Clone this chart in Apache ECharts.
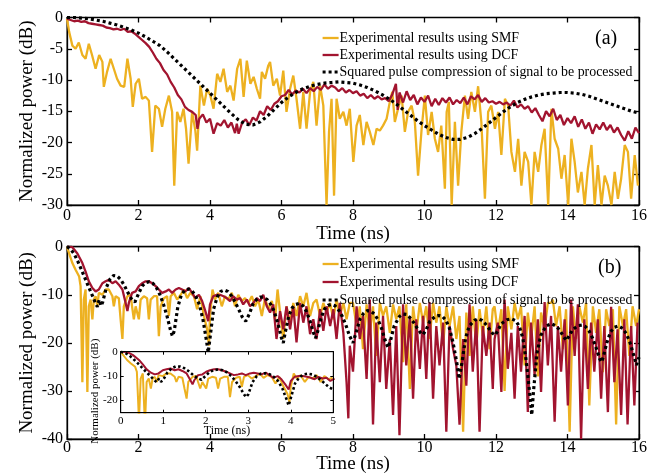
<!DOCTYPE html>
<html><head><meta charset="utf-8">
<script src="https://cdn.jsdelivr.net/npm/echarts@6/dist/echarts.min.js"></script>
<style>html,body{margin:0;padding:0;background:#fff}#c{width:658px;height:475px}</style>
</head><body><div id="c"></div>
<script>
// ---------- DATA ----------
const seriesNames = ['Experimental results using SMF', 'Experimental results using DCF', 'Squared pulse compression of signal to be processed'];
const xTicksMain = [0, 2, 4, 6, 8, 10, 12, 14, 16];
const yTicksA = [-30, -25, -20, -15, -10, -5, 0];
const yTicksB = [-40, -30, -20, -10, 0];
const xTicksInset = [0, 1, 2, 3, 4, 5];
const yTicksInset = [-20, -10, 0];

const smfA = [[0,-0.2],[0.06,-2.3],[0.15,-4.5],[0.24,-5],[0.33,-4],[0.43,-6],[0.52,-6.6],[0.61,-4.2],[0.7,-6],[0.8,-8.2],[0.9,-6],[0.99,-7.1],[1.03,-11.1],[1.12,-8.7],[1.22,-6.6],[1.31,-8.2],[1.4,-9.8],[1.5,-10.9],[1.6,-11.1],[1.69,-6.6],[1.78,-9.8],[1.84,-14.3],[1.92,-10.6],[2.01,-9.8],[2.1,-13],[2.2,-12.7],[2.29,-13.3],[2.38,-21.5],[2.47,-14.1],[2.57,-14.6],[2.66,-17.5],[2.75,-14.6],[2.85,-12.5],[2.94,-15.1],[3.0,-26.9],[3.08,-15.1],[3.17,-16.7],[3.26,-14.6],[3.33,-17.8],[3.4,-23.4],[3.5,-15.1],[3.59,-18.1],[3.64,-21.3],[3.73,-10.9],[3.83,-14.1],[3.92,-11.4],[4.01,-12.5],[4.1,-14.6],[4.2,-9],[4.29,-10.3],[4.38,-8.2],[4.48,-11.9],[4.57,-10.9],[4.66,-13.3],[4.76,-8.2],[4.85,-6.6],[4.94,-12.7],[5.03,-6.9],[5.13,-10.6],[5.22,-9.5],[5.31,-11.4],[5.4,-13],[5.45,-8.7],[5.54,-9.8],[5.63,-7.7],[5.68,-7.1],[5.77,-10.9],[5.87,-9.8],[5.96,-12.5],[6.05,-8.5],[6.14,-15.1],[6.24,-11.4],[6.33,-9.3],[6.42,-13],[6.52,-17.8],[6.61,-11.9],[6.7,-17.8],[6.8,-11.9],[6.89,-10.3],[6.98,-17.3],[7.08,-10.9],[7.17,-14.1],[7.26,-30],[7.33,-18.3],[7.4,-13],[7.47,-28.5],[7.54,-13],[7.63,-16.2],[7.73,-15.1],[7.82,-17.3],[7.91,-14.6],[8.01,-23.1],[8.1,-17.3],[8.19,-15.6],[8.29,-20.4],[8.38,-16.7],[8.47,-18.3],[8.57,-20.4],[8.66,-17.8],[8.75,-18.1],[8.84,-17.3],[8.94,-16.2],[9.03,-13.5],[9.1,-11.9],[9.17,-16.7],[9.26,-14.6],[9.36,-12.5],[9.45,-18.3],[9.54,-15.1],[9.64,-14.1],[9.73,-16.7],[9.82,-25.3],[9.92,-17.8],[10.01,-12.5],[10.1,-18.8],[10.2,-15.1],[10.29,-19.4],[10.38,-21.5],[10.47,-17.3],[10.57,-27.4],[10.62,-15.1],[10.68,-13.5],[10.76,-30],[10.85,-16.7],[10.94,-26.9],[11.03,-18.3],[11.13,-12.5],[11.22,-16.2],[11.31,-11.9],[11.41,-15.1],[11.5,-11],[11.59,-16.7],[11.69,-29],[11.78,-15.1],[11.87,-14.1],[11.97,-17.8],[12.06,-15.1],[12.15,-22],[12.25,-13],[12.34,-14.1],[12.43,-21.5],[12.53,-24.7],[12.62,-19.4],[12.71,-26.9],[12.8,-21.5],[12.9,-23.1],[12.99,-30],[13.08,-21.5],[13.18,-24.7],[13.27,-20.4],[13.36,-17.8],[13.46,-30],[13.55,-14.6],[13.64,-19.4],[13.74,-21],[13.83,-25.8],[13.92,-22],[14.02,-30],[14.11,-19.4],[14.2,-23.1],[14.29,-28],[14.39,-24.7],[14.48,-30],[14.57,-24.2],[14.67,-20.4],[14.76,-30],[14.85,-23.6],[14.95,-30],[15.04,-25.3],[15.13,-26.9],[15.23,-30],[15.32,-24.7],[15.41,-29],[15.5,-25.8],[15.6,-20.4],[15.69,-21.5],[15.78,-29],[15.88,-22],[15.97,-26.9]];

const dcfA = [[0,-0.2],[0.1,-0.4],[0.2,-0.6],[0.3,-0.5],[0.4,-0.7],[0.5,-0.6],[0.6,-0.9],[0.7,-1.0],[0.8,-1.1],[0.9,-1.2],[1.0,-1.3],[1.1,-1.6],[1.2,-1.7],[1.3,-1.9],[1.4,-1.8],[1.5,-2.0],[1.6,-1.8],[1.7,-2.3],[1.8,-2.2],[1.9,-2.6],[2.0,-3.1],[2.1,-3.6],[2.2,-4.1],[2.3,-4.7],[2.4,-5.6],[2.5,-6.6],[2.6,-7.3],[2.7,-8.4],[2.8,-9.1],[2.9,-10.3],[3.0,-11.2],[3.1,-12.4],[3.2,-13.1],[3.3,-14.3],[3.4,-14.8],[3.5,-15.1],[3.6,-15.6],[3.65,-17.8],[3.7,-16.2],[3.8,-15.5],[3.9,-16.8],[4.0,-16.2],[4.1,-18.6],[4.2,-16.9],[4.3,-17.3],[4.4,-16.4],[4.5,-17.6],[4.6,-16.8],[4.7,-18.5],[4.75,-17.0],[4.8,-18.6],[4.9,-16.8],[5.0,-16.3],[5.1,-17.2],[5.2,-16.0],[5.3,-16.5],[5.4,-15.0],[5.5,-15.6],[5.6,-14.2],[5.7,-14.8],[5.8,-13.8],[5.9,-13.4],[6.0,-12.6],[6.1,-12.4],[6.2,-11.6],[6.3,-12.3],[6.4,-11.7],[6.5,-12.0],[6.6,-11.4],[6.7,-12.1],[6.8,-11.3],[6.9,-11.8],[7.0,-11.1],[7.1,-11.6],[7.2,-10.7],[7.3,-11.4],[7.4,-10.9],[7.5,-11.2],[7.6,-11.8],[7.7,-11.3],[7.8,-12.0],[7.9,-11.6],[8.0,-12.1],[8.1,-11.8],[8.2,-12.5],[8.3,-12.2],[8.4,-12.9],[8.5,-12.4],[8.6,-13.0],[8.7,-12.6],[8.8,-13.1],[8.9,-12.9],[9.0,-13.4],[9.1,-12.3],[9.2,-10.6],[9.25,-14.8],[9.3,-12.0],[9.4,-13.6],[9.5,-11.8],[9.6,-13.2],[9.7,-12.4],[9.8,-13.9],[9.9,-12.8],[10.0,-13.5],[10.1,-12.5],[10.2,-14.2],[10.3,-13.0],[10.4,-14.0],[10.5,-12.9],[10.6,-13.6],[10.7,-12.8],[10.8,-13.9],[10.9,-13.2],[11.0,-13.7],[11.1,-12.8],[11.2,-13.9],[11.3,-12.6],[11.4,-13.1],[11.5,-12.4],[11.6,-13.5],[11.7,-12.9],[11.8,-13.6],[11.9,-13.4],[12.0,-13.8],[12.1,-13.5],[12.2,-13.9],[12.3,-13.6],[12.4,-14.1],[12.5,-13.3],[12.6,-14.4],[12.7,-13.9],[12.8,-14.6],[12.9,-14.2],[13.0,-15.2],[13.1,-14.5],[13.2,-15.6],[13.3,-16.6],[13.4,-15.0],[13.5,-15.8],[13.6,-14.6],[13.7,-16.4],[13.8,-15.6],[13.9,-17.2],[14.0,-16.1],[14.1,-16.9],[14.2,-15.8],[14.3,-17.5],[14.4,-16.3],[14.5,-17.8],[14.6,-16.8],[14.7,-18.6],[14.8,-17.1],[14.9,-17.9],[15.0,-16.8],[15.1,-18.0],[15.2,-17.2],[15.3,-18.4],[15.4,-17.6],[15.5,-18.8],[15.6,-19.7],[15.7,-18.2],[15.8,-19.4],[15.9,-17.6],[16.0,-18.5]];

const sqA = [[0,0],[0.2,0],[0.4,-0.1],[0.6,-0.2],[0.8,-0.4],[1.0,-0.6],[1.2,-0.9],[1.4,-1.2],[1.6,-1.6],[1.8,-2.0],[2.0,-2.5],[2.2,-3.1],[2.4,-3.8],[2.6,-4.5],[2.8,-5.5],[3.0,-6.6],[3.2,-7.7],[3.4,-8.8],[3.6,-9.9],[3.8,-11.0],[4.0,-12.1],[4.2,-13.2],[4.4,-14.3],[4.6,-15.4],[4.8,-16.4],[5.0,-17.1],[5.2,-17.2],[5.4,-16.7],[5.6,-15.8],[5.8,-14.7],[6.0,-13.6],[6.2,-12.7],[6.4,-12.0],[6.6,-11.4],[6.8,-11.0],[7.0,-10.7],[7.2,-10.5],[7.4,-10.4],[7.6,-10.3],[7.8,-10.4],[8.0,-10.5],[8.2,-10.8],[8.4,-11.2],[8.6,-11.7],[8.8,-12.3],[9.0,-13.0],[9.2,-13.8],[9.4,-14.7],[9.6,-15.6],[9.8,-16.5],[10.0,-17.3],[10.2,-18.0],[10.4,-18.7],[10.6,-19.2],[10.8,-19.5],[11.0,-19.5],[11.2,-19.2],[11.4,-18.6],[11.6,-17.8],[11.8,-16.9],[12.0,-16.0],[12.2,-15.1],[12.4,-14.3],[12.6,-13.6],[12.8,-13.1],[13.0,-12.7],[13.2,-12.4],[13.4,-12.2],[13.6,-12.1],[13.8,-12.0],[14.0,-12.0],[14.2,-12.1],[14.4,-12.3],[14.6,-12.6],[14.8,-13.0],[15.0,-13.4],[15.2,-13.8],[15.4,-14.2],[15.6,-14.6],[15.8,-15.0],[16.0,-15.3]];

const smfB = [[0,0],[0.06,-1.4],[0.15,-3.4],[0.24,-4.8],[0.34,-6.2],[0.38,-8.2],[0.43,-28.2],[0.47,-11],[0.52,-8.9],[0.57,-30.2],[0.61,-12.4],[0.66,-11],[0.71,-15.1],[0.75,-11],[0.8,-10.3],[0.85,-12.4],[0.89,-9.6],[0.99,-10],[1.08,-8.9],[1.17,-8.9],[1.27,-10.3],[1.31,-12.4],[1.36,-10.3],[1.45,-10.7],[1.5,-15.1],[1.55,-19.2],[1.59,-12.4],[1.69,-10.3],[1.78,-10],[1.82,-12.4],[1.87,-15.1],[1.92,-12.4],[2.01,-15.1],[2.06,-11],[2.15,-10.3],[2.24,-10.7],[2.29,-15.1],[2.34,-11],[2.43,-10.3],[2.52,-10.3],[2.57,-18.6],[2.62,-12.4],[2.71,-10.7],[2.8,-10.3],[2.85,-14.4],[2.9,-10.3],[2.99,-9.6],[3.08,-11],[3.18,-10],[3.27,-8.9],[3.36,-10.7],[3.45,-9.6],[3.55,-10.3],[3.64,-13],[3.73,-10.3],[3.83,-14.4],[3.92,-17.2],[3.97,-20.6],[4.0,-14.4],[4.07,-8.9],[4.14,-11],[4.23,-9.6],[4.33,-12.4],[4.42,-10.3],[4.51,-11],[4.61,-9.6],[4.7,-12.4],[4.79,-10],[4.89,-11.3],[4.98,-10.7],[5.07,-11.7],[5.17,-10.3],[5.26,-12.4],[5.35,-11],[5.45,-14.4],[5.54,-10.7],[5.63,-13],[5.73,-11.3],[5.82,-15.1],[5.89,-8.9],[5.96,-13.7],[6.05,-19.2],[6.14,-12.4],[6.24,-15.8],[6.33,-11.7],[6.42,-14.4],[6.52,-10.3],[6.61,-12.4],[6.7,-9.6],[6.8,-14.4],[6.89,-11.7],[6.98,-11],[7.08,-14.4],[7.17,-11.7],[7.26,-13.7],[7.36,-11.7],[7.45,-15.1],[7.54,-11],[7.63,-14.4],[7.73,-11.7],[7.82,-15.1],[7.91,-11.7],[8.0,-11.7],[8.1,-16.5],[8.19,-12.4],[8.28,-21.3],[8.38,-12],[8.47,-17.9],[8.56,-12.4],[8.65,-22.7],[8.75,-11.7],[8.84,-14.4],[8.93,-12.4],[9.03,-17.9],[9.12,-12],[9.21,-15.1],[9.3,-12.4],[9.4,-24],[9.49,-12],[9.59,-29.6],[9.68,-12.4],[9.77,-17.9],[9.87,-11.7],[9.96,-15.8],[10.05,-12.4],[10.14,-19.2],[10.24,-11.7],[10.33,-15.8],[10.42,-12.4],[10.52,-20.6],[10.61,-12.4],[10.7,-16.5],[10.8,-12.4],[10.89,-19.2],[10.98,-14.4],[11.08,-38.5],[11.17,-13.7],[11.26,-22.7],[11.35,-12.4],[11.45,-20.6],[11.54,-13],[11.63,-18.6],[11.73,-12.4],[11.82,-21.3],[11.91,-13],[11.96,-12.4],[12.05,-17.9],[12.15,-13],[12.24,-30],[12.33,-12.4],[12.43,-17.2],[12.52,-11.7],[12.61,-15.1],[12.7,-12.4],[12.8,-24.7],[12.89,-13.7],[12.98,-19.2],[13.08,-12.4],[13.17,-27],[13.26,-13.7],[13.36,-17.2],[13.45,-11.7],[13.54,-11.7],[13.59,-11],[13.68,-16.5],[13.78,-12.4],[13.87,-21.3],[13.96,-13],[14.06,-38.5],[14.15,-12.4],[14.24,-19.2],[14.33,-12.4],[14.43,-15.8],[14.52,-11.7],[14.61,-33],[14.71,-12.4],[14.8,-17.9],[14.89,-13],[14.99,-26.1],[15.08,-13],[15.17,-16.5],[15.27,-13],[15.36,-37],[15.45,-12.4],[15.55,-16.5],[15.64,-13],[15.73,-22.7],[15.82,-12.4],[15.92,-16.5],[16,-13]];

const dcfB = [[0,0],[0.15,-0.1],[0.29,-1.4],[0.43,-3.4],[0.52,-5.2],[0.61,-7.2],[0.71,-8.6],[0.8,-9.3],[0.89,-8.9],[0.99,-7.6],[1.08,-7.2],[1.17,-6.9],[1.27,-7.6],[1.36,-7.2],[1.45,-7.9],[1.55,-8.9],[1.64,-11.7],[1.69,-13.4],[1.73,-11.7],[1.82,-9.6],[1.92,-9.3],[2.01,-8.2],[2.1,-7.6],[2.2,-7.2],[2.29,-7.2],[2.38,-7.6],[2.48,-8.2],[2.57,-8.9],[2.66,-9.6],[2.76,-9.3],[2.85,-8.9],[2.94,-9.6],[3.04,-8.9],[3.13,-8.6],[3.22,-8.9],[3.31,-9.3],[3.41,-8.6],[3.5,-9.6],[3.59,-10.7],[3.69,-10],[3.78,-11.3],[3.87,-13.4],[3.95,-15.5],[4.0,-12],[4.09,-10.3],[4.19,-10],[4.28,-10],[4.38,-10.3],[4.47,-10.7],[4.56,-11.3],[4.65,-10.3],[4.75,-11],[4.84,-10.7],[4.93,-12],[5.03,-11],[5.12,-12.4],[5.21,-11.7],[5.31,-10.7],[5.4,-11.3],[5.49,-10],[5.59,-12.4],[5.68,-13.7],[5.77,-12],[5.86,-19.2],[5.96,-13.4],[6.05,-17.2],[6.14,-12.4],[6.24,-17.2],[6.33,-12.4],[6.42,-19.9],[6.52,-11.7],[6.61,-15.8],[6.7,-12.4],[6.8,-18.2],[6.89,-15.1],[6.98,-19.2],[7.08,-13],[7.17,-17.5],[7.26,-12.4],[7.36,-16.5],[7.45,-13],[7.54,-19.2],[7.63,-11.7],[7.73,-17.9],[7.82,-28.2],[7.87,-35.7],[7.91,-20.6],[8.0,-26],[8.1,-12.4],[8.19,-19.2],[8.28,-14.4],[8.38,-27.5],[8.47,-11],[8.56,-37],[8.65,-15.8],[8.75,-28.2],[8.84,-14.4],[8.93,-29.6],[9.03,-19.2],[9.12,-35],[9.21,-16.5],[9.3,-39.2],[9.4,-12],[9.49,-24.7],[9.59,-14.4],[9.68,-31.6],[9.77,-15.1],[9.87,-25.4],[9.96,-14.4],[10.05,-27.5],[10.14,-11.5],[10.24,-31.6],[10.33,-16.5],[10.42,-24.7],[10.52,-15.8],[10.61,-38.5],[10.7,-16.5],[10.8,-21.3],[10.89,-24.7],[10.98,-37],[11.08,-19.2],[11.17,-28.9],[11.26,-12],[11.35,-26],[11.45,-15.1],[11.54,-38.5],[11.63,-16.5],[11.73,-22.7],[11.82,-15.8],[11.91,-29.6],[11.96,-19.2],[12.05,-15.8],[12.15,-30.2],[12.24,-11],[12.33,-25.4],[12.43,-17.9],[12.52,-31.6],[12.61,-16.5],[12.7,-26],[12.8,-14.4],[12.89,-34.4],[12.98,-15.8],[13.08,-26.8],[13.17,-15.1],[13.26,-30.2],[13.36,-11.5],[13.45,-24.7],[13.54,-14.4],[13.64,-36.4],[13.73,-16.5],[13.82,-26],[13.92,-15.1],[14.01,-33],[14.1,-11],[14.2,-22.7],[14.29,-12],[14.38,-40],[14.47,-15.1],[14.57,-29.6],[14.66,-15.8],[14.75,-26],[14.85,-15.1],[14.94,-31.6],[15.03,-16.5],[15.13,-34.4],[15.22,-12.5],[15.31,-28.2],[15.4,-17.2],[15.5,-35],[15.59,-15.1],[15.68,-37],[15.78,-16.5],[15.87,-33],[15.96,-15.8]];

const sqB = [[0,0],[0.1,-0.5],[0.2,-1.5],[0.3,-3],[0.4,-4.7],[0.5,-6.5],[0.6,-8.3],[0.7,-10],[0.8,-11.8],[0.85,-12.5],[0.9,-11],[0.95,-12.3],[1.0,-11.5],[1.1,-8.5],[1.2,-6.8],[1.3,-6],[1.4,-6.1],[1.5,-6.8],[1.6,-8],[1.7,-9.5],[1.8,-10.8],[1.9,-11.5],[2.0,-9.8],[2.1,-8.2],[2.2,-7.5],[2.3,-7.3],[2.4,-7.6],[2.5,-8.5],[2.6,-10],[2.7,-12],[2.8,-14.5],[2.9,-17.5],[2.95,-18.6],[3.0,-17.5],[3.1,-12.5],[3.2,-10],[3.3,-9],[3.4,-8.8],[3.5,-9.2],[3.6,-10.3],[3.7,-12],[3.8,-15],[3.9,-19.5],[3.95,-22],[4.0,-19],[4.1,-13],[4.2,-10.5],[4.3,-9.3],[4.4,-9],[4.5,-9.3],[4.6,-10.2],[4.7,-11.5],[4.8,-13],[4.9,-14.6],[5.0,-15.5],[5.1,-14],[5.2,-12],[5.3,-11],[5.4,-10.5],[5.5,-10.5],[5.6,-11],[5.7,-12],[5.8,-13.5],[5.9,-16],[6.0,-19],[6.05,-20],[6.1,-18],[6.2,-14.5],[6.3,-12.7],[6.4,-12],[6.5,-11.8],[6.6,-12.3],[6.7,-13.5],[6.8,-15.5],[6.9,-18],[6.95,-19],[7.0,-18],[7.1,-15],[7.2,-13],[7.3,-12.2],[7.4,-12],[7.5,-12.3],[7.6,-13.2],[7.7,-14.5],[7.8,-16.3],[7.9,-18.5],[8.0,-20],[8.1,-17.5],[8.2,-15],[8.3,-13.8],[8.4,-13.3],[8.5,-13.4],[8.6,-14],[8.7,-15.2],[8.8,-17],[8.9,-19.5],[8.98,-21],[9.05,-19.5],[9.15,-16.5],[9.3,-14.5],[9.4,-14],[9.5,-14.1],[9.6,-14.8],[9.7,-15.8],[9.8,-17],[9.9,-18],[9.96,-18.3],[10.05,-17.2],[10.15,-15.5],[10.3,-14.5],[10.4,-14.3],[10.5,-14.5],[10.6,-15.3],[10.7,-17],[10.8,-20],[10.9,-24],[10.97,-27.5],[11.05,-24],[11.15,-19],[11.25,-16.5],[11.4,-15.3],[11.5,-15],[11.6,-15.3],[11.7,-16],[11.8,-17],[11.9,-18],[11.98,-18.4],[12.05,-17.5],[12.15,-16],[12.3,-15.2],[12.44,-15],[12.55,-15.4],[12.65,-16.5],[12.75,-19],[12.85,-24],[12.95,-31],[13.0,-35],[13.05,-30],[13.15,-22],[13.25,-18.5],[13.4,-16.5],[13.55,-16],[13.7,-16.6],[13.8,-17.6],[13.9,-18.8],[13.97,-19.5],[14.05,-18.5],[14.15,-17.2],[14.3,-16.4],[14.4,-16.3],[14.5,-16.6],[14.6,-17.5],[14.7,-19],[14.8,-21],[14.9,-23.3],[14.95,-24],[15.0,-23],[15.1,-20],[15.2,-17.8],[15.3,-16.8],[15.42,-16.5],[15.55,-17],[15.65,-18.2],[15.75,-20],[15.85,-22.5],[15.93,-24.6],[16.0,-23]];

// ---------- CHART ----------
const FONT = 'Liberation Serif';
const C_SMF = '#EDB120', C_DCF = '#A2142F', C_SQ = '#000000';
const insetMax = xTicksInset[xTicksInset.length - 1];
const cut = arr => arr.filter(p => p[0] <= insetMax + 0.05);

function xAxisDef(grid, ticks, pos, opts) {
  return Object.assign({
    type: 'value', gridIndex: grid, position: pos,
    min: ticks[0], max: ticks[ticks.length - 1], interval: ticks[1] - ticks[0],
    axisLine: {show: true, onZero: false, lineStyle: {color: '#000', width: 1.3}},
    axisTick: {show: true, inside: true, length: 5, lineStyle: {color: '#000', width: 1.3}},
    axisLabel: {show: pos === 'bottom', color: '#000', fontFamily: FONT, fontSize: 16, margin: 3},
    splitLine: {show: false}, nameMoveOverlap: false
  }, opts || {});
}
function yAxisDef(grid, ticks, pos, opts) {
  return Object.assign({
    type: 'value', gridIndex: grid, position: pos,
    min: ticks[0], max: ticks[ticks.length - 1], interval: ticks[1] - ticks[0],
    axisLine: {show: true, onZero: false, lineStyle: {color: '#000', width: 1.3}},
    axisTick: {show: true, inside: true, length: 5, lineStyle: {color: '#000', width: 1.3}},
    axisLabel: {show: pos === 'left', color: '#000', fontFamily: FONT, fontSize: 16, margin: 4},
    splitLine: {show: false}, nameMoveOverlap: false
  }, opts || {});
}

const nameStyle = {color: '#000', fontFamily: FONT, fontSize: 19};
const insetLab = {color: '#000', fontFamily: FONT, fontSize: 11, margin: 3};
const insetTick = {show: true, inside: true, length: 3, lineStyle: {color: '#000', width: 1}};
const insetLine = {show: true, onZero: false, lineStyle: {color: '#000', width: 1}};

const xAxes = [
  xAxisDef(0, xTicksMain, 'bottom', {name: 'Time (ns)', nameLocation: 'middle', nameGap: 20, nameTextStyle: nameStyle}),
  xAxisDef(0, xTicksMain, 'top'),
  xAxisDef(1, xTicksMain, 'bottom', {name: 'Time (ns)', nameLocation: 'middle', nameGap: 16, nameTextStyle: nameStyle, axisLabel: {show: true, color: '#000', fontFamily: FONT, fontSize: 16, margin: 1}}),
  xAxisDef(1, xTicksMain, 'top'),
  xAxisDef(2, xTicksInset, 'bottom', {z: 8, name: 'Time (ns)', nameLocation: 'middle', nameGap: 12, nameTextStyle: {color: '#000', fontFamily: FONT, fontSize: 12}, axisLabel: insetLab, axisTick: insetTick, axisLine: insetLine}),
  xAxisDef(2, xTicksInset, 'top', {z: 8, axisTick: insetTick, axisLine: insetLine})
];
const yAxes = [
  yAxisDef(0, yTicksA, 'left', {name: 'Normalized power (dB)', nameLocation: 'middle', nameGap: 30, nameTextStyle: nameStyle}),
  yAxisDef(0, yTicksA, 'right'),
  yAxisDef(1, yTicksB, 'left', {name: 'Normalized power (dB)', nameLocation: 'middle', nameGap: 30, nameTextStyle: nameStyle}),
  yAxisDef(1, yTicksB, 'right'),
  yAxisDef(2, yTicksInset, 'left', {z: 8, min: -25, max: 0, interval: undefined,
    name: 'Normalized power (dB)', nameLocation: 'middle', nameGap: 20, nameTextStyle: {color: '#000', fontFamily: FONT, fontSize: 11, padding: [0, 0, 0, -18]},
    axisLabel: Object.assign({customValues: yTicksInset}, insetLab),
    axisTick: Object.assign({customValues: yTicksInset}, insetTick),
    axisLine: insetLine}),
  yAxisDef(2, yTicksInset, 'right', {z: 8, min: -25, max: 0, interval: undefined,
    axisLabel: {show: false}, axisTick: Object.assign({customValues: yTicksInset}, insetTick),
    axisLine: insetLine})
];

function line(name, data, color, xi, yi, extra) {
  const dotted = color === C_SQ;
  return Object.assign({
    name: name, type: 'line', data: data, xAxisIndex: xi, yAxisIndex: yi,
    showSymbol: false, symbol: 'none', animation: false, silent: true,
    lineStyle: dotted ? {color: color, width: 3.2, type: [3, 3]} : {color: color, width: 2.3},
    itemStyle: {color: color}
  }, extra || {});
}

const series = [
  line(seriesNames[0], smfA, C_SMF, 0, 0),
  line(seriesNames[1], dcfA, C_DCF, 0, 0),
  line(seriesNames[2], sqA, C_SQ, 0, 0),
  line(seriesNames[0], smfB, C_SMF, 2, 2),
  line(seriesNames[1], dcfB, C_DCF, 2, 2),
  line(seriesNames[2], sqB, C_SQ, 2, 2),
  line(seriesNames[0], cut(smfB), C_SMF, 4, 4, {z: 7, lineStyle: {color: C_SMF, width: 2}}),
  line(seriesNames[1], cut(dcfB), C_DCF, 4, 4, {z: 7, lineStyle: {color: C_DCF, width: 2}}),
  line(seriesNames[2], cut(sqB), C_SQ, 4, 4, {z: 7, lineStyle: {color: C_SQ, width: 2.6, type: [2.5, 2.5]}})
];

const legendData = [
  {name: seriesNames[0], itemStyle: {opacity: 0}, lineStyle: {color: C_SMF, width: 2.3, type: 'solid'}},
  {name: seriesNames[1], itemStyle: {opacity: 0}, lineStyle: {color: C_DCF, width: 2.3, type: 'solid'}},
  {name: seriesNames[2], itemStyle: {opacity: 0}, lineStyle: {color: C_SQ, width: 3.2, type: [3, 3]}}
];
const legendBase = {
  orient: 'vertical', left: 316, itemWidth: 16, itemHeight: 12, itemGap: 3,
  selectedMode: false, data: legendData,
  textStyle: {color: '#000', fontFamily: FONT, fontSize: 13.9, padding: [0, 0, 0, -4]}
};

const option = {
  backgroundColor: '#fff',
  animation: false,
  title: [
    {text: '(a)', left: 590, top: 24, textStyle: {color: '#000', fontFamily: FONT, fontSize: 20, fontWeight: 'normal'}},
    {text: '(b)', left: 593, top: 253, textStyle: {color: '#000', fontFamily: FONT, fontSize: 20, fontWeight: 'normal'}}
  ],
  legend: [
    Object.assign({}, legendBase, {top: 26}),
    Object.assign({}, legendBase, {top: 252, itemGap: 4})
  ],
  grid: [
    {left: 67, top: 17.5, width: 572, height: 187.5, show: true, borderColor: '#000', borderWidth: 1, backgroundColor: 'transparent'},
    {left: 67, top: 246.7, width: 572, height: 194, show: true, borderColor: '#000', borderWidth: 1, backgroundColor: 'transparent'},
    {left: 120.7, top: 351.7, width: 212.6, height: 61, show: true, z: 5, borderColor: '#000', borderWidth: 1, backgroundColor: '#fff'}
  ],
  xAxis: xAxes,
  yAxis: yAxes,
  series: series
};

const chart = echarts.init(document.getElementById('c'), null, {renderer: 'canvas'});
chart.setOption(option);
</script></body></html>
